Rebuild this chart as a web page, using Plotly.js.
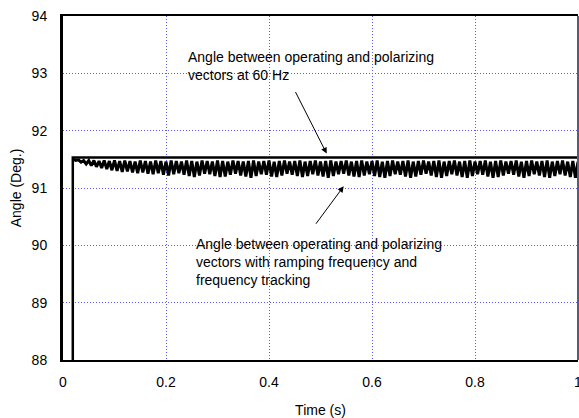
<!DOCTYPE html>
<html>
<head>
<meta charset="utf-8">
<script src="https://cdn.plot.ly/plotly-3.0.1.min.js"></script>
<style>html,body{margin:0;padding:0;background:#fff;}#chart{width:579px;height:418px;}</style>
</head>
<body>
<div id="chart"></div>
<script>
// Angle at 60 Hz (step then flat)
const t60 = [0.019, 0.019, 1.0];
const angle60 = [88, 91.53, 91.53];

// Angle with ramping frequency and frequency tracking (peaks/troughs)
const tTrack = [
0.02,0.025,0.03,0.035,0.04,0.045,0.05,0.055,0.06,0.065,0.07,0.075,0.08,0.085,0.09,0.095,
0.10,0.105,0.11,0.115,0.12,0.125,0.13,0.135,0.14,0.145,0.15,0.155,0.16,0.165,0.17,0.175,0.18,0.185,0.19,0.195,
0.20,0.205,0.21,0.215,0.22,0.225,0.23,0.235,0.24,0.245,0.25,0.255,0.26,0.265,0.27,0.275,0.28,0.285,0.29,0.295,
0.30,0.305,0.31,0.315,0.32,0.325,0.33,0.335,0.34,0.345,0.35,0.355,0.36,0.365,0.37,0.375,0.38,0.385,0.39,0.395,
0.40,0.405,0.41,0.415,0.42,0.425,0.43,0.435,0.44,0.445,0.45,0.455,0.46,0.465,0.47,0.475,0.48,0.485,0.49,0.495,
0.50,0.505,0.51,0.515,0.52,0.525,0.53,0.535,0.54,0.545,0.55,0.555,0.56,0.565,0.57,0.575,0.58,0.585,0.59,0.595,
0.60,0.605,0.61,0.615,0.62,0.625,0.63,0.635,0.64,0.645,0.65,0.655,0.66,0.665,0.67,0.675,0.68,0.685,0.69,0.695,
0.70,0.705,0.71,0.715,0.72,0.725,0.73,0.735,0.74,0.745,0.75,0.755,0.76,0.765,0.77,0.775,0.78,0.785,0.79,0.795,
0.80,0.805,0.81,0.815,0.82,0.825,0.83,0.835,0.84,0.845,0.85,0.855,0.86,0.865,0.87,0.875,0.88,0.885,0.89,0.895,
0.90,0.905,0.91,0.915,0.92,0.925,0.93,0.935,0.94,0.945,0.95,0.955,0.96,0.965,0.97,0.975,0.98,0.985,0.99,0.995,
1.00
];
const angleTrack = [
91.50,91.48,91.49,91.45,91.48,91.42,91.48,91.39,91.48,91.37,91.47,91.35,91.48,91.33,91.47,91.31,
91.48,91.30,91.47,91.28,91.48,91.29,91.47,91.27,91.46,91.26,91.48,91.27,91.47,91.25,91.46,91.24,91.48,91.26,91.47,91.23,
91.46,91.22,91.48,91.24,91.47,91.26,91.46,91.23,91.48,91.21,91.47,91.19,91.46,91.22,91.48,91.25,91.47,91.24,91.46,91.21,
91.48,91.19,91.47,91.20,91.46,91.23,91.48,91.25,91.47,91.22,91.46,91.20,91.47,91.18,91.48,91.21,91.46,91.24,91.47,91.23,
91.48,91.20,91.46,91.19,91.47,91.22,91.48,91.25,91.46,91.23,91.47,91.21,91.48,91.19,91.46,91.21,91.47,91.24,91.48,91.22,
91.46,91.20,91.47,91.18,91.48,91.21,91.46,91.24,91.47,91.25,91.48,91.22,91.46,91.20,91.47,91.19,91.48,91.22,91.46,91.24,
91.47,91.21,91.48,91.19,91.46,91.18,91.47,91.21,91.48,91.24,91.46,91.23,91.47,91.20,91.48,91.18,91.46,91.20,91.47,91.23,
91.48,91.25,91.46,91.22,91.47,91.19,91.48,91.18,91.46,91.21,91.47,91.24,91.48,91.22,91.46,91.19,91.47,91.18,91.48,91.21,
91.46,91.24,91.47,91.23,91.48,91.20,91.46,91.18,91.47,91.19,91.48,91.22,91.46,91.25,91.47,91.23,91.48,91.20,91.46,91.18,
91.47,91.21,91.48,91.24,91.46,91.22,91.47,91.19,91.48,91.18,91.46,91.21,91.47,91.24,91.48,91.22,91.46,91.19,91.47,91.18,
91.46
];

const xTicks = [0, 0.2, 0.4, 0.6, 0.8, 1];
const xTickText = ["0", "0.2", "0.4", "0.6", "0.8", "1"];
const yTicks = [88, 89, 90, 91, 92, 93, 94];
const yTickText = ["88", "89", "90", "91", "92", "93", "94"];

const label60 = "Angle between operating and polarizing<br>vectors at 60 Hz";
const labelTrack = "Angle between operating and polarizing<br>vectors with ramping frequency and<br>frequency tracking";

const FONT = "Liberation Sans, Arial, sans-serif";
const GRID = "rgb(90,90,255)";

const traces = [
  {x: t60, y: angle60, mode: "lines", line: {color: "#000", width: 2.5}, hoverinfo: "skip"},
  {x: tTrack, y: angleTrack, mode: "lines", line: {color: "#000", width: 3}, hoverinfo: "skip"}
];

const layout = {
  width: 579, height: 418,
  margin: {l: 63, r: 1, t: 16, b: 58},
  paper_bgcolor: "#fff", plot_bgcolor: "#fff",
  showlegend: false,
  font: {family: FONT, size: 14, color: "#000"},
  xaxis: {
    range: [0, 1], tickvals: xTicks, ticktext: xTickText,
    showgrid: true, gridcolor: GRID, griddash: "1px,2px", gridwidth: 1,
    zeroline: false, showline: true, linecolor: "#000", linewidth: 2, mirror: true,
    ticks: "outside", ticklen: 8, tickcolor: "rgba(0,0,0,0)",
    ticklabeloverflow: "allow",
    tickfont: {family: FONT, size: 14, color: "#000"},
    title: {text: "Time (s)", font: {family: FONT, size: 14, color: "#000"}, standoff: 16}
  },
  yaxis: {
    range: [88, 94], tickvals: yTicks, ticktext: yTickText,
    showgrid: true, gridcolor: GRID, griddash: "1px,2px", gridwidth: 1,
    zeroline: false, showline: true, linecolor: "#000", linewidth: 3, mirror: false,
    ticks: "outside", ticklen: 10, tickcolor: "rgba(0,0,0,0)",
    tickfont: {family: FONT, size: 14, color: "#000"},
    title: {text: "Angle (Deg.)", font: {family: FONT, size: 14, color: "#000"}, standoff: 7}
  },
  shapes: [
    {type: "line", xref: "paper", yref: "paper", x0: 1, x1: 1, y0: 0, y1: 1,
     line: {color: "#5a5a7a", width: 2}}
  ],
  annotations: [
    {xref: "x", yref: "y", x: 0.239, y: 93.46, xanchor: "left", yanchor: "top", align: "left",
     text: label60, showarrow: false, font: {family: FONT, size: 14, color: "#000"}},
    {xref: "x", yref: "y", x: 0.2535, y: 90.20, xanchor: "left", yanchor: "top", align: "left",
     text: labelTrack, showarrow: false, font: {family: FONT, size: 14, color: "#000"}},
    {xref: "x", yref: "y", x: 0.512, y: 91.60, axref: "x", ayref: "y", ax: 0.45, ay: 92.70,
     text: "", showarrow: true, arrowhead: 2, arrowsize: 1.2, arrowwidth: 1, arrowcolor: "#000"},
    {xref: "x", yref: "y", x: 0.545, y: 91.03, axref: "x", ayref: "y", ax: 0.489, ay: 90.35,
     text: "", showarrow: true, arrowhead: 2, arrowsize: 1.2, arrowwidth: 1, arrowcolor: "#000"}
  ]
};

Plotly.newPlot("chart", traces, layout, {displayModeBar: false, staticPlot: true});
</script>
</body>
</html>
